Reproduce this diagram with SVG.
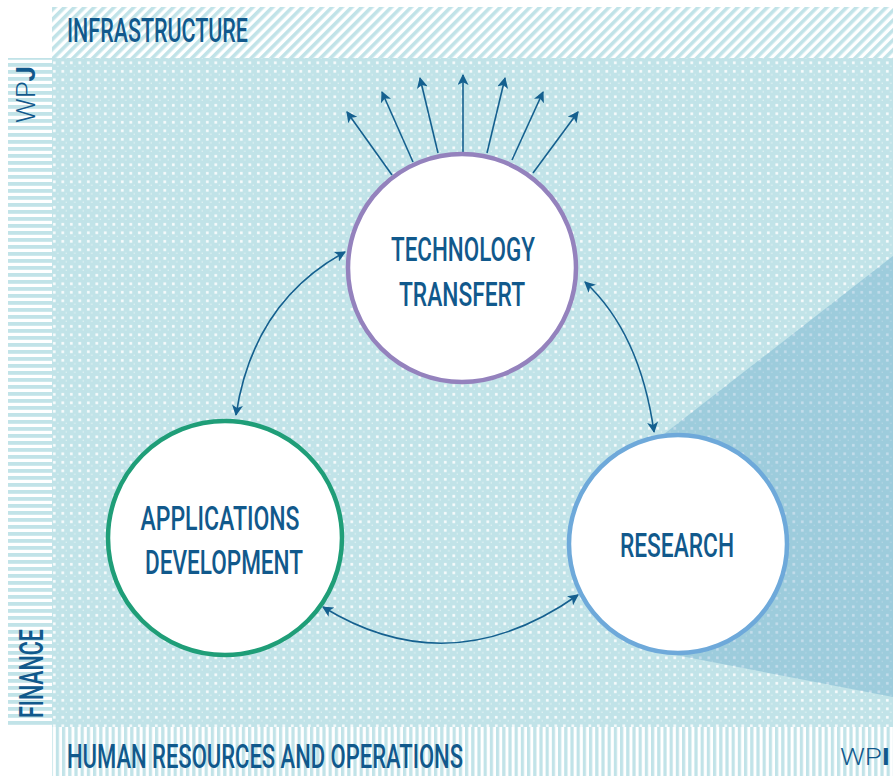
<svg xmlns="http://www.w3.org/2000/svg" width="893" height="776" viewBox="0 0 893 776">
<defs>
<pattern id="dots" width="8.5" height="8.5" patternUnits="userSpaceOnUse">
<rect width="8.5" height="8.5" fill="#c1e3e8"/>
<rect x="2" y="2" width="2.6" height="2.6" fill="#ffffff" opacity="0.9"/>
<rect x="6.2" y="6.2" width="1.3" height="1.3" fill="#ffffff" opacity="0.55"/>
</pattern>
<pattern id="diag" width="7" height="7" patternUnits="userSpaceOnUse" patternTransform="rotate(45)">
<rect width="7" height="7" fill="#ffffff"/>
<rect width="3.6" height="7" fill="#c1e3e8"/>
</pattern>
<pattern id="hstripe" width="7" height="7" patternUnits="userSpaceOnUse">
<rect width="7" height="7" fill="#ffffff"/>
<rect width="7" height="3.8" fill="#c1e3e8"/>
</pattern>
<pattern id="vstripe" width="6.2" height="7" patternUnits="userSpaceOnUse">
<rect width="6.2" height="7" fill="#ffffff"/>
<rect width="3.2" height="7" fill="#c1e3e8"/>
</pattern>
<marker id="ah" viewBox="0 0 10 10" refX="9" refY="5" markerWidth="11" markerHeight="11" markerUnits="userSpaceOnUse" orient="auto-start-reverse">
<path d="M0,0 L10,5 L0,10 L2.5,5 Z" fill="#15608f"/>
</marker>
<style>
.lbl{font-family:Roboto,"Liberation Sans",sans-serif;font-weight:500;fill:#11598c;}
.thin{font-family:Roboto,"Liberation Sans",sans-serif;font-weight:300;fill:#11598c;}
.con{fill:none;stroke:#15608f;stroke-width:1.6;}
.node{fill:#ffffff;stroke-width:4.5;}
</style>
</defs>
<rect width="893" height="776" fill="#ffffff"/>
<g id="bands">
<rect x="52" y="7" width="841" height="51" fill="url(#diag)"/>
<rect x="8" y="58" width="44" height="670" fill="url(#hstripe)"/>
<rect x="52" y="727" width="841" height="49" fill="url(#vstripe)"/>
<rect x="52" y="58" width="841" height="669" fill="url(#dots)"/>
<polygon points="893,256 650,445 660,652 893,697" fill="#3f8fc0" opacity="0.28"/>
</g>
<g id="band-labels">
<text class="lbl" x="67" y="42" font-size="33" textLength="181" lengthAdjust="spacingAndGlyphs">INFRASTRUCTURE</text>
<text class="lbl" x="67" y="768" font-size="33" textLength="396" lengthAdjust="spacingAndGlyphs">HUMAN RESOURCES AND OPERATIONS</text>
<text class="lbl" font-size="34" transform="translate(43,718) rotate(-90)" textLength="89" lengthAdjust="spacingAndGlyphs">FINANCE</text>
<text class="thin" font-size="25" transform="translate(35,123) rotate(-90)" textLength="57" lengthAdjust="spacingAndGlyphs">WP<tspan font-weight="700">J</tspan></text>
<text class="thin" x="840" y="765" font-size="24" textLength="50" lengthAdjust="spacingAndGlyphs">WP<tspan font-weight="700">I</tspan></text>
</g>
<g id="connectors">
<path class="con" d="M392,175 L347,112" marker-end="url(#ah)"/>
<path class="con" d="M413,162 L382,92" marker-end="url(#ah)"/>
<path class="con" d="M438,153 L420,78" marker-end="url(#ah)"/>
<path class="con" d="M463,152 L463,75" marker-end="url(#ah)"/>
<path class="con" d="M487,153 L505,78" marker-end="url(#ah)"/>
<path class="con" d="M512,160 L543,92" marker-end="url(#ah)"/>
<path class="con" d="M533,173 L578,112" marker-end="url(#ah)"/>
<path class="con" d="M345,252 Q253,302 236,415" marker-start="url(#ah)" marker-end="url(#ah)"/>
<path class="con" d="M585,282 Q640,333 654,432" marker-start="url(#ah)" marker-end="url(#ah)"/>
<path class="con" d="M323,607 Q450,685 578,595" marker-start="url(#ah)" marker-end="url(#ah)"/>
</g>
<g id="node-technology">
<circle class="node" cx="462" cy="268" r="114" stroke="#9482bd"/>
<text class="lbl" x="463" y="261" font-size="33" text-anchor="middle" textLength="144" lengthAdjust="spacingAndGlyphs">TECHNOLOGY</text>
<text class="lbl" x="462" y="306" font-size="33" text-anchor="middle" textLength="126" lengthAdjust="spacingAndGlyphs">TRANSFERT</text>
</g>
<g id="node-applications">
<circle class="node" cx="225" cy="538" r="117" stroke="#1f9e78"/>
<text class="lbl" x="220" y="530" font-size="33" text-anchor="middle" textLength="159" lengthAdjust="spacingAndGlyphs">APPLICATIONS</text>
<text class="lbl" x="224" y="574" font-size="33" text-anchor="middle" textLength="158" lengthAdjust="spacingAndGlyphs">DEVELOPMENT</text>
</g>
<g id="node-research">
<circle class="node" cx="678" cy="544" r="109" stroke="#6ea9da"/>
<text class="lbl" x="677" y="557" font-size="33" text-anchor="middle" textLength="114" lengthAdjust="spacingAndGlyphs">RESEARCH</text>
</g>
</svg>
